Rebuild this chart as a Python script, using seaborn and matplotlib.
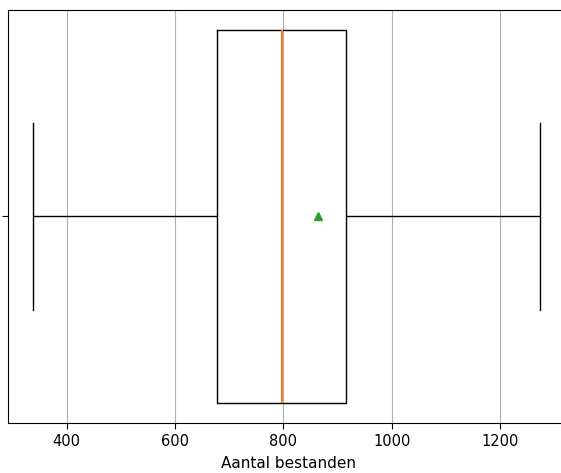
import matplotlib
matplotlib.use("Agg")
import matplotlib.pyplot as plt
import numpy as np
import pandas as pd
import seaborn as sns

# Number of files per item (values chosen to reproduce the box statistics:
# min 337, Q1 677, median 798, Q3 916, max 1273, mean ~864)
aantal_bestanden = [337, 670, 675, 677, 790, 795, 798, 905, 912, 916, 1235, 1249, 1273]
tick_values = [400, 600, 800, 1000, 1200]
x_label = "Aantal bestanden"

df = pd.DataFrame({"aantal": aantal_bestanden})

fig = plt.figure(figsize=(5.61, 4.73), dpi=100)
# the right spine falls just outside the picture, as in the reference
ax = fig.add_axes([8 / 561, 49.7 / 473, 562 / 561, 413.6 / 473])

sns.boxplot(
    data=df,
    x="aantal",
    orient="h",
    width=0.9,
    fill=False,
    color="black",
    linewidth=1,
    showmeans=True,
    medianprops={"color": "C1", "linewidth": 1.5},
    meanprops={
        "marker": "^",
        "markerfacecolor": "C2",
        "markeredgecolor": "C2",
        "markersize": 6,
    },
    ax=ax,
)

ax.set_xticks(tick_values)
ax.set_yticks([0])
ax.set_yticklabels([""])
ax.set_xlim(291.7, 291.7 + 562 / 0.542)
ax.grid(axis="x", color="#b0b0b0", linewidth=0.8)
ax.set_axisbelow(True)
ax.tick_params(labelsize=10.5, length=4.5)
ax.set_xlabel(x_label, fontsize=11, labelpad=5)
ax.set_ylabel("")

fig.savefig("out.png", dpi=100)
